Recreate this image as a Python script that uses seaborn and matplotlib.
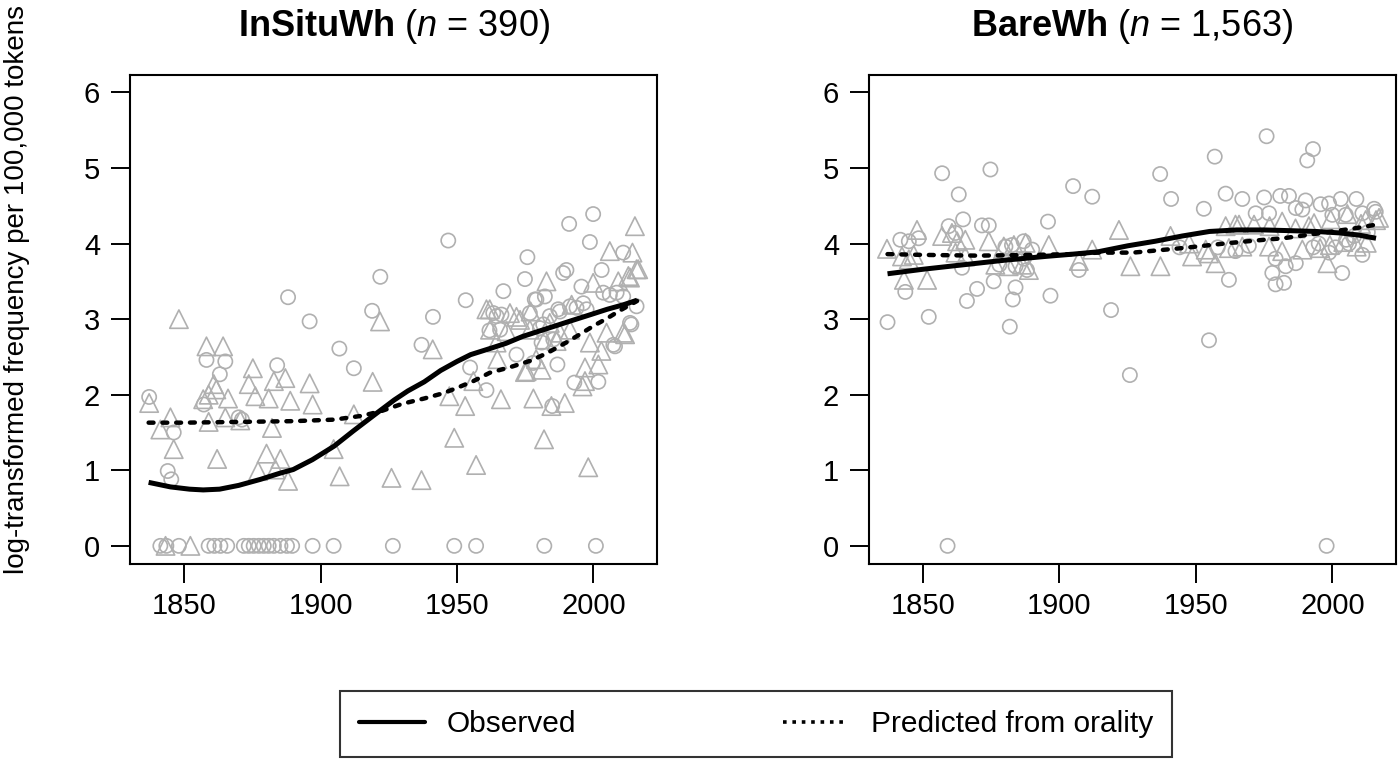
import numpy as np
import pandas as pd
import matplotlib
matplotlib.use('Agg')
import matplotlib.pyplot as plt
from matplotlib.lines import Line2D
import seaborn as sns

# ---- data ----
# InSituWh: circles (year, value)
insitu_circ_year = [1837.2, 1844.0, 1845.3, 1846.2, 1857.2, 1858.2, 1863.1, 1865.1, 1870.0, 1871.2,
                    1884.1, 1888.1, 1896.0, 1906.9, 1912.2, 1918.9, 1921.9, 1937.0, 1941.2, 1946.8,
                    1953.2, 1954.8, 1960.8, 1961.9, 1963.3, 1964.5, 1965.8, 1966.3, 1967.0, 1971.8,
                    1974.9, 1975.8, 1976.7, 1977.9, 1978.5, 1979.1, 1980.4, 1981.0, 1981.6, 1982.2,
                    1984.0, 1984.9, 1985.3, 1986.8, 1987.1, 1987.7, 1988.9, 1990.1, 1991.1, 1991.4,
                    1993.0, 1993.8, 1995.6, 1996.3, 1997.5, 1998.7, 1999.9, 2001.8, 2003.0, 2003.6,
                    2006.0, 2007.3, 2007.9, 2008.5, 2010.9, 2010.9, 2013.4, 2013.9, 2015.8,
                    1841.3, 1843.5, 1848.1, 1859.0, 1861.1, 1863.3, 1865.8, 1871.9, 1873.7, 1875.5,
                    1877.4, 1879.2, 1881.0, 1882.9, 1885.3, 1887.7, 1889.6, 1897.1, 1904.8, 1926.5,
                    1949.0, 1957.0, 1982.0, 2000.9]
insitu_circ_val = [1.97, 0.99, 0.88, 1.50, 1.87, 2.46, 2.27, 2.44, 1.70, 1.67,
                   2.39, 3.29, 2.97, 2.61, 2.35, 3.11, 3.56, 2.66, 3.03, 4.04,
                   3.25, 2.36, 2.06, 2.85, 3.08, 3.04, 2.86, 3.06, 3.37, 2.53,
                   3.53, 3.82, 3.08, 2.42, 3.26, 3.26, 2.88, 2.69, 2.93, 3.30,
                   3.04, 1.85, 2.73, 2.40, 3.13, 3.10, 3.61, 3.65, 4.26, 3.17,
                   2.16, 3.15, 3.43, 3.21, 3.13, 4.02, 4.39, 2.17, 3.65, 3.35,
                   3.32, 2.66, 2.64, 3.35, 3.88, 3.30, 2.95, 2.93, 3.17,
                   0, 0, 0, 0, 0, 0, 0, 0, 0, 0,
                   0, 0, 0, 0, 0, 0, 0, 0, 0, 0,
                   0, 0, 0, 0]

# InSituWh: triangles
insitu_tri_year = [1837.2, 1841.3, 1845.0, 1846.2, 1848.1, 1857.0, 1858.2, 1859.0, 1859.0, 1860.9,
                   1861.8, 1862.1, 1864.3, 1865.1, 1866.1, 1870.6, 1873.7, 1875.2, 1876.1, 1877.1,
                   1880.2, 1881.0, 1882.2, 1882.9, 1883.5, 1885.3, 1887.1, 1888.1, 1888.9, 1896.0,
                   1897.1, 1904.8, 1907.0, 1912.2, 1919.1, 1921.8, 1926.0, 1937.0, 1941.1, 1947.2,
                   1949.0, 1953.0, 1956.0, 1957.0, 1960.8, 1962.1, 1962.0, 1964.5, 1964.8, 1966.1,
                   1968.2, 1969.4, 1971.8, 1973.1, 1974.9, 1975.5, 1976.7, 1977.0, 1978.0, 1979.0,
                   1981.0, 1981.9, 1982.2, 1982.8, 1984.0, 1984.6, 1986.5, 1987.7, 1989.5, 1991.4,
                   1992.0, 1996.0, 1996.9, 1996.9, 1998.1, 1998.7, 1999.9, 2001.8, 2002.9, 2004.8,
                   2006.0, 2009.1, 2010.9, 2011.6, 2012.8, 2013.4, 2014.3, 2015.2, 2015.8, 2016.4,
                   1843.2, 1852.3]
insitu_tri_val = [1.89, 1.54, 1.70, 1.28, 3.00, 1.94, 2.64, 1.64, 2.00, 2.14,
                  2.07, 1.15, 2.64, 1.70, 1.95, 1.66, 2.14, 2.35, 1.98, 0.99,
                  1.22, 1.95, 1.56, 2.18, 1.01, 1.15, 2.22, 0.86, 1.92, 2.15,
                  1.87, 1.28, 0.92, 1.74, 2.17, 2.97, 0.90, 0.87, 2.60, 1.98,
                  1.43, 1.85, 2.18, 1.07, 3.13, 2.86, 3.13, 2.69, 2.47, 1.94,
                  2.84, 3.08, 3.03, 2.99, 2.30, 2.31, 2.86, 3.10, 1.95, 2.47,
                  2.33, 1.41, 2.73, 3.50, 2.95, 1.85, 2.71, 2.82, 1.89, 2.86,
                  3.19, 2.11, 2.36, 2.18, 1.04, 2.69, 3.48, 2.40, 2.58, 2.82,
                  3.90, 3.50, 2.82, 2.80, 3.57, 3.55, 3.88, 4.23, 3.66, 3.66,
                  0, 0]

# InSituWh: smoothed curves
insitu_obs_year = [1837, 1845, 1852, 1857, 1863, 1870, 1878, 1885, 1890, 1897, 1905, 1912, 1920,
                   1927, 1932, 1938, 1944, 1950, 1955, 1962, 1968, 1974, 1980, 1986, 1992, 1999,
                   2005, 2011, 2016]
insitu_obs_val = [0.84, 0.78, 0.75, 0.74, 0.75, 0.80, 0.88, 0.96, 1.01, 1.14, 1.32, 1.52, 1.74,
                  1.93, 2.05, 2.17, 2.32, 2.44, 2.53, 2.61, 2.68, 2.77, 2.84, 2.91, 2.98, 3.06,
                  3.13, 3.19, 3.25]
insitu_pred_year = [1837, 1850, 1870, 1890, 1905, 1915, 1922, 1930, 1938, 1945, 1950, 1956, 1962,
                    1970, 1977, 1983, 1990, 1996, 2000, 2005, 2010, 2016]
insitu_pred_val = [1.63, 1.63, 1.64, 1.65, 1.67, 1.72, 1.78, 1.88, 1.95, 2.02, 2.09, 2.18, 2.29,
                   2.37, 2.45, 2.55, 2.69, 2.82, 2.91, 3.01, 3.12, 3.24]

# BareWh: circles
bare_circ_year = [1837.0, 1841.7, 1843.5, 1844.8, 1848.4, 1852.1, 1857.0, 1859.0, 1859.4, 1861.9,
                  1863.1, 1864.3, 1864.7, 1866.1, 1869.8, 1871.6, 1874.1, 1874.7, 1875.9, 1880.2,
                  1881.8, 1882.6, 1882.9, 1883.9, 1883.9, 1886.9, 1888.1, 1890.0, 1895.8, 1896.7,
                  1905.0, 1907.1, 1912.0, 1918.9, 1925.8, 1936.9, 1940.9, 1952.9, 1954.8, 1956.9,
                  1960.9, 1962.1, 1967.0, 1971.9, 1975.0, 1975.9, 1976.8, 1978.0, 1979.2, 1980.9,
                  1982.3, 1982.9, 1984.1, 1986.6, 1986.6, 1989.0, 1990.2, 1990.8, 1992.9, 1995.7,
                  1997.9, 1998.8, 2000.0, 2003.1, 2003.6, 2008.8, 2011.0, 2015.3, 2015.9, 1964.5,
                  1969.4, 1979.2, 1998.8, 2001.2, 2006.1, 2004.9, 2011.0, 1944.0, 1958.0, 1993.0,
                  1995.0, 2005.0, 2008.0, 2013.0, 1887.0, 1878.0]
bare_circ_val = [2.96, 4.05, 3.36, 4.03, 4.07, 3.03, 4.93, 0.00, 4.23, 4.14,
                 4.65, 3.68, 4.32, 3.24, 3.40, 4.24, 4.24, 4.98, 3.50, 3.96,
                 2.90, 3.98, 3.26, 3.42, 3.70, 4.03, 3.65, 3.92, 4.29, 3.31,
                 4.76, 3.65, 4.62, 3.12, 2.26, 4.92, 4.59, 4.46, 2.72, 5.15,
                 4.66, 3.52, 4.59, 4.40, 4.61, 5.42, 4.40, 3.61, 3.46, 4.63,
                 3.48, 3.70, 4.63, 3.74, 4.47, 4.45, 4.57, 5.10, 5.25, 4.52,
                 0.00, 4.53, 4.38, 4.59, 3.61, 4.59, 3.85, 4.46, 4.42, 3.90,
                 3.97, 3.80, 3.88, 3.95, 4.00, 4.38, 4.40, 3.95, 3.95, 3.95,
                 4.00, 4.05, 4.10, 4.15, 3.80, 3.72]

# BareWh: triangles
bare_tri_year = [1836.8, 1842.3, 1843.0, 1844.8, 1846.6, 1847.8, 1851.5, 1857.0, 1860.6, 1861.9,
                 1862.5, 1865.5, 1865.5, 1874.1, 1876.5, 1879.6, 1881.4, 1883.3, 1886.3, 1887.6,
                 1888.8, 1896.1, 1907.1, 1912.0, 1921.8, 1926.0, 1937.0, 1940.7, 1947.5, 1948.6,
                 1953.6, 1954.8, 1957.2, 1960.9, 1962.1, 1964.5, 1965.8, 1967.0, 1971.3, 1976.8,
                 1977.0, 1981.6, 1981.6, 1986.5, 1989.0, 1991.4, 1993.3, 1995.5, 1998.2, 1999.1,
                 1999.4, 2004.0, 2005.5, 2008.9, 2010.5, 2012.2, 2012.6, 2016.0, 2017.1]
bare_tri_val = [3.93, 3.83, 3.52, 3.79, 3.85, 4.18, 3.52, 4.10, 4.14, 3.88,
                4.03, 4.05, 3.83, 4.03, 3.72, 3.96, 3.70, 3.98, 3.72, 4.01,
                3.65, 3.98, 3.77, 3.92, 4.18, 3.70, 3.70, 4.10, 4.00, 3.83,
                3.92, 3.87, 3.74, 4.23, 3.94, 4.25, 4.25, 3.96, 4.25, 3.96,
                4.23, 4.29, 3.90, 4.20, 3.92, 4.23, 4.27, 3.94, 3.74, 3.98,
                4.32, 4.02, 4.39, 3.96, 4.26, 4.31, 4.01, 4.31, 4.34]

# BareWh: smoothed curves
bare_obs_year = [1837, 1850, 1865, 1880, 1895, 1905, 1914, 1925, 1935, 1945, 1955, 1965, 1975,
                 1985, 1994, 2003, 2010, 2016]
bare_obs_val = [3.60, 3.66, 3.72, 3.78, 3.83, 3.86, 3.89, 3.97, 4.03, 4.10, 4.16, 4.18, 4.18,
                4.17, 4.16, 4.14, 4.11, 4.07]
bare_pred_year = [1837, 1850, 1870, 1890, 1905, 1914, 1927, 1945, 1963, 1975, 1982, 1990, 2000,
                  2008, 2016]
bare_pred_val = [3.86, 3.85, 3.84, 3.85, 3.86, 3.88, 3.88, 3.94, 4.01, 4.05, 4.07, 4.11, 4.16,
                 4.20, 4.25]

panels = [
    ('InSituWh', '390', insitu_circ_year, insitu_circ_val, insitu_tri_year, insitu_tri_val,
     insitu_obs_year, insitu_obs_val, insitu_pred_year, insitu_pred_val),
    ('BareWh', '1,563', bare_circ_year, bare_circ_val, bare_tri_year, bare_tri_val,
     bare_obs_year, bare_obs_val, bare_pred_year, bare_pred_val),
]

# ---- styling ----
sns.set_style('white')
plt.rcParams['font.family'] = ['Liberation Sans', 'DejaVu Sans']
plt.rcParams['mathtext.fontset'] = 'custom'
plt.rcParams['mathtext.rm'] = 'Liberation Sans'
plt.rcParams['mathtext.it'] = 'Liberation Sans:italic'
plt.rcParams['mathtext.bf'] = 'Liberation Sans:bold'
plt.rcParams['text.color'] = 'black'
plt.rcParams['xtick.color'] = 'black'
plt.rcParams['ytick.color'] = 'black'
plt.rcParams['axes.labelcolor'] = 'black'

grey = '#b0b0b0'
fig = plt.figure(figsize=(14, 7.71), dpi=100)
axes = [fig.add_axes([0.0929, 0.2685, 0.3764, 0.6342]),
        fig.add_axes([0.6207, 0.2685, 0.3764, 0.6342])]

for ax, (name, n, cy, cv, ty, tv, oy, ov, py, pv) in zip(axes, panels):
    circ = pd.DataFrame({'year': cy, 'val': cv})
    tri = pd.DataFrame({'year': ty, 'val': tv})
    sns.scatterplot(data=circ, x='year', y='val', ax=ax, marker='o', s=105,
                    facecolor='none', edgecolor=grey, linewidth=1.2, zorder=2)
    sns.scatterplot(data=tri, x='year', y='val', ax=ax, marker='^', s=175,
                    facecolor='none', edgecolor=grey, linewidth=1.2, zorder=2)
    obs = pd.DataFrame({'year': oy, 'val': ov})
    pred = pd.DataFrame({'year': py, 'val': pv})
    sns.lineplot(data=obs, x='year', y='val', ax=ax, color='black', linewidth=3.6,
                 solid_capstyle='butt', zorder=3)
    sns.lineplot(data=pred, x='year', y='val', ax=ax, color='black', linewidth=3.2,
                 linestyle=(0, (1.1, 2.0)), dash_capstyle='round', zorder=3)

    ax.set_xlim(1830.2, 2023.3)
    ax.set_ylim(-0.24, 6.23)
    ax.set_xticks([1850, 1900, 1950, 2000])
    ax.set_yticks(range(0, 7))
    ax.set_xlabel('')
    ax.set_ylabel('')
    ax.tick_params(axis='both', which='both', direction='out', length=13.5, width=1.4,
                   labelsize=21, colors='black', left=True, bottom=True)
    ax.tick_params(axis='x', pad=7)
    ax.tick_params(axis='y', pad=8)
    for sp in ax.spines.values():
        sp.set_visible(True)
        sp.set_color('black')
        sp.set_linewidth(1.5)
    ax.set_title(r'$\bf{' + name + r'}$ ($\it{n}$ = ' + n + ')', fontsize=26, pad=28,
                 color='black')

fig.text(0.012, 0.625, 'log-transformed frequency per 100,000 tokens', rotation=90,
         ha='center', va='center', fontsize=20, color='black')

handles = [Line2D([0], [0], color='black', linewidth=3.0),
           Line2D([0], [0], color='black', linewidth=2.6, linestyle=(0, (1.0, 1.6)))]
leg = fig.legend(handles, ['Observed', 'Predicted from orality'], loc='center',
                 bbox_to_anchor=(0.54, 0.061), ncol=2, fontsize=21.5, frameon=True,
                 fancybox=False, edgecolor='black', handlelength=2.2, handletextpad=0.75,
                 columnspacing=6.9, borderpad=0.65)
leg.get_frame().set_linewidth(1.5)
for t in leg.get_texts():
    t.set_color('black')

fig.savefig('out.png', dpi=100)
